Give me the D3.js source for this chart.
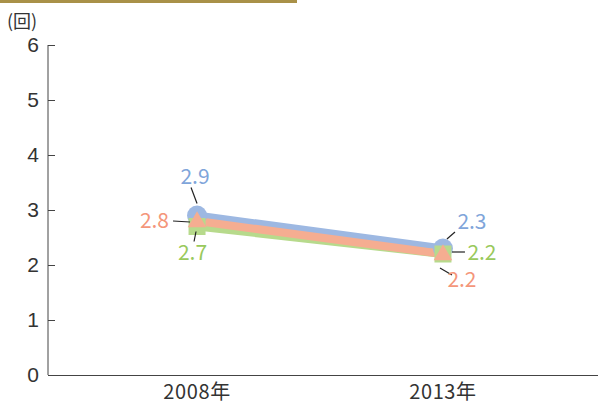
<!DOCTYPE html>
<html>
<head>
<meta charset="utf-8">
<script src="https://cdn.jsdelivr.net/npm/d3@7"></script>
<style>
body { margin: 0; background: #fff; }
svg { display: block; font-family: "Noto Sans CJK JP", "Noto Sans", sans-serif; }
</style>
</head>
<body>
<svg id="chart" width="598" height="405"></svg>
<script>
var years = ['2008年', '2013年']
var blueValues = [2.9, 2.3]
var salmonValues = [2.8, 2.2]
var greenValues = [2.7, 2.2]
var yTicks = [0, 1, 2, 3, 4, 5, 6]

var svg = d3.select('#chart')

// gold rule at top
svg.append('rect').attr('x', 0).attr('y', 0).attr('width', 297).attr('height', 3).attr('fill', '#a99148')

var x = d3.scalePoint().domain(years).range([48, 592]).padding(0.606)
var y = d3.scaleLinear().domain([0, 6]).range([375, 45])

// y axis
var yAxis = svg.append('g').attr('transform', 'translate(48,0)')
    .call(d3.axisLeft(y).tickValues(yTicks).tickSize(-7).tickFormat(d3.format('d')))
yAxis.select('.domain').attr('stroke', '#444').attr('d', 'M0,45V375')
yAxis.selectAll('.tick line').attr('stroke', '#444')
yAxis.selectAll('.tick text').attr('fill', '#333').attr('font-size', 21).attr('font-family', 'inherit').attr('x', -9)

// x axis
svg.append('line').attr('x1', 48).attr('x2', 598).attr('y1', 375.5).attr('y2', 375.5).attr('stroke', '#444')
svg.selectAll('.xlab').data(years).enter().append('text')
    .attr('x', function (d) { return x(d) })
    .attr('y', 399)
    .attr('text-anchor', 'middle')
    .attr('font-size', 20)
    .attr('letter-spacing', 0.6)
    .attr('fill', '#333')
    .text(function (d) { return d })

svg.append('text').attr('x', 7).attr('y', 28).attr('font-size', 18).attr('fill', '#333').text('(回)')

var series = [
    { values: blueValues, line: '#9db8e2', label: '#7fa5da', shape: 'circle' },
    { values: greenValues, line: '#b7da8c', label: '#99c95c', shape: 'square' },
    { values: salmonValues, line: '#f5ad91', label: '#f4967a', shape: 'triangle' }
]

// label offsets: [dx, dy, anchor, leader x1,y1,x2,y2] relative to point
var labelPos = {
    circle: [[-2, -39, 'middle', -6, -28, 0, -12], [29, -26.5, 'middle', 4, -9.5, 12, -16.5]],
    square: [[-4.5, 26, 'middle', -1, 5, -3, 15], [39, -1, 'middle', 9, -2, 22, -2]],
    triangle: [[-28, -0.5, 'end', -24, 0, -7, 1], [19, 26, 'middle', -3, 14, 9, 21]]
}

var line = d3.line().x(function (d, i) { return x(years[i]) }).y(function (d) { return y(d) })

series.forEach(function (s) {
    svg.append('path').datum(s.values)
        .attr('d', line).attr('fill', 'none').attr('stroke', s.line).attr('stroke-width', 8)
})

series.forEach(function (s) {
    var g = svg.append('g')
    s.values.forEach(function (v, i) {
        var cx = x(years[i]), cy = y(v)
        if (s.shape == 'circle') {
            g.append('circle').attr('cx', cx).attr('cy', cy).attr('r', 10).attr('fill', s.line)
        } else if (s.shape == 'square') {
            g.append('rect').attr('x', cx - 8.5).attr('y', cy - 8.5).attr('width', 17).attr('height', 17).attr('fill', s.line)
        } else {
            g.append('path').attr('d', d3.symbol().type(d3.symbolTriangle).size(150)())
                .attr('transform', 'translate(' + cx + ',' + (cy + 1) + ')').attr('fill', s.line)
        }
    })
})

series.forEach(function (s) {
    s.values.forEach(function (v, i) {
        var cx = x(years[i]), cy = y(v)
        var p = labelPos[s.shape][i]
        svg.append('line')
            .attr('x1', cx + p[3]).attr('y1', cy + p[4]).attr('x2', cx + p[5]).attr('y2', cy + p[6])
            .attr('stroke', '#222').attr('stroke-width', 1.2)
        svg.append('text')
            .attr('x', cx + p[0]).attr('y', cy + p[1] + 1.5)
            .attr('text-anchor', p[2])
            .attr('dominant-baseline', 'middle')
            .attr('font-size', 21)
            .attr('fill', s.label)
            .text(d3.format('.1f')(v))
    })
})
</script>
</body>
</html>
